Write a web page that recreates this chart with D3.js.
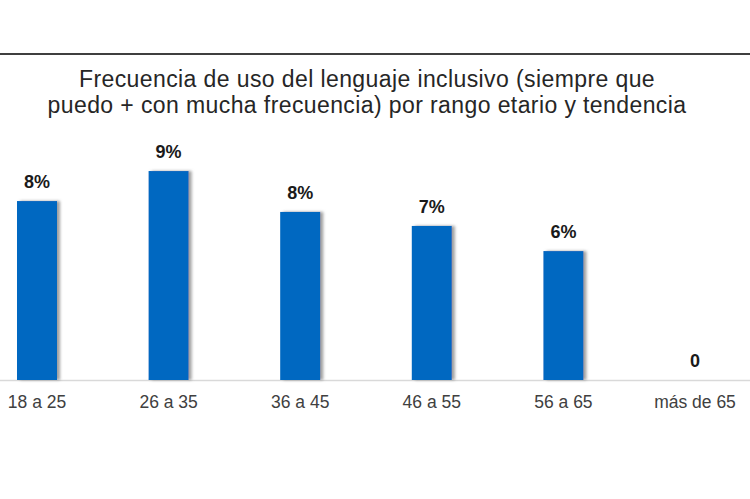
<!DOCTYPE html>
<html>
<head>
<meta charset="utf-8">
<script src="https://cdn.jsdelivr.net/npm/d3@7"></script>
<style>
  html, body { margin: 0; padding: 0; background: #fff; }
  svg { display: block; font-family: Arial, "Liberation Sans", sans-serif; }
</style>
</head>
<body>
<div id="chart"></div>
<script>
/* ---------------- DATA ---------------- */
const AGE_GROUPS = ["18 a 25", "26 a 35", "36 a 45", "46 a 55", "56 a 65", "más de 65"];
const VALUES     = [8.05, 9.4, 7.56, 6.93, 5.8, 0];
const VALUE_LABELS = ["8%", "9%", "8%", "7%", "6%", "0"];
const TITLE_LINES = [
  "Frecuencia de uso del lenguaje inclusivo (siempre que",
  "puedo + con mucha frecuencia) por rango etario y tendencia"
];

/* ---------------- LAYOUT ---------------- */
const W = 750, H = 499;
const BASE = 380;          // baseline of bars
const BAR_BLUE = "#0467c1";

const svg = d3.select("#chart").append("svg")
  .attr("width", W).attr("height", H);

// soft shadow to the right of each bar
const defs = svg.append("defs");
const f = defs.append("filter").attr("id", "shadow")
  .attr("x", "-20%").attr("y", "-5%").attr("width", "160%").attr("height", "110%");
f.append("feDropShadow")
  .attr("dx", 3).attr("dy", 0).attr("stdDeviation", 1.4)
  .attr("flood-color", "#7f7f7f").attr("flood-opacity", 0.75);

// top rule
svg.append("line")
  .attr("x1", 0).attr("x2", W).attr("y1", 54).attr("y2", 54)
  .attr("stroke", "#3f3f3f").attr("stroke-width", 2);

// title (two lines, tight leading)
svg.append("g").selectAll("text")
  .data(TITLE_LINES)
  .join("text")
  .attr("x", 367)
  .attr("y", (d, i) => 87 + i * 26)
  .attr("text-anchor", "middle")
  .attr("font-size", 23)
  .attr("letter-spacing", 0.4)
  .attr("fill", "#262626")
  .text(d => d);

/* ---------------- SCALES ---------------- */
const x = d3.scaleBand()
  .domain(AGE_GROUPS)
  .range([-28.8, 760.8])
  .paddingInner(0.696)
  .paddingOuter(0.348);

const y = d3.scaleLinear()
  .domain([0, 10])
  .range([BASE, BASE - 222.3]);

// category axis
const xAxis = svg.append("g")
  .attr("transform", `translate(0,${BASE})`)
  .call(d3.axisBottom(x).tickSize(0).tickPadding(16));
xAxis.select(".domain").remove();
xAxis.selectAll("text")
  .attr("font-size", 17.5)
  .attr("fill", "#404040")
  .attr("font-family", "Arial, 'Liberation Sans', sans-serif");

svg.append("line")
  .attr("x1", 0).attr("x2", W)
  .attr("y1", BASE + 0.5).attr("y2", BASE + 0.5)
  .attr("stroke", "#d9d9d9").attr("stroke-width", 1.5);

/* ---------------- BARS ---------------- */
const rows = AGE_GROUPS.map((g, i) => ({ g, v: VALUES[i], lab: VALUE_LABELS[i] }));

svg.append("g").selectAll("rect")
  .data(rows.filter(d => d.v > 0))
  .join("rect")
  .attr("x", d => x(d.g))
  .attr("y", d => y(d.v))
  .attr("width", x.bandwidth())
  .attr("height", d => y(0) - y(d.v))
  .attr("fill", BAR_BLUE)
  .attr("filter", "url(#shadow)");

svg.append("g").selectAll("text")
  .data(rows)
  .join("text")
  .attr("x", d => x(d.g) + x.bandwidth() / 2)
  .attr("y", d => y(d.v) - 13)
  .attr("text-anchor", "middle")
  .attr("font-size", 18)
  .attr("font-weight", "bold")
  .attr("fill", "#1a1a1a")
  .text(d => d.lab);
</script>
</body>
</html>
